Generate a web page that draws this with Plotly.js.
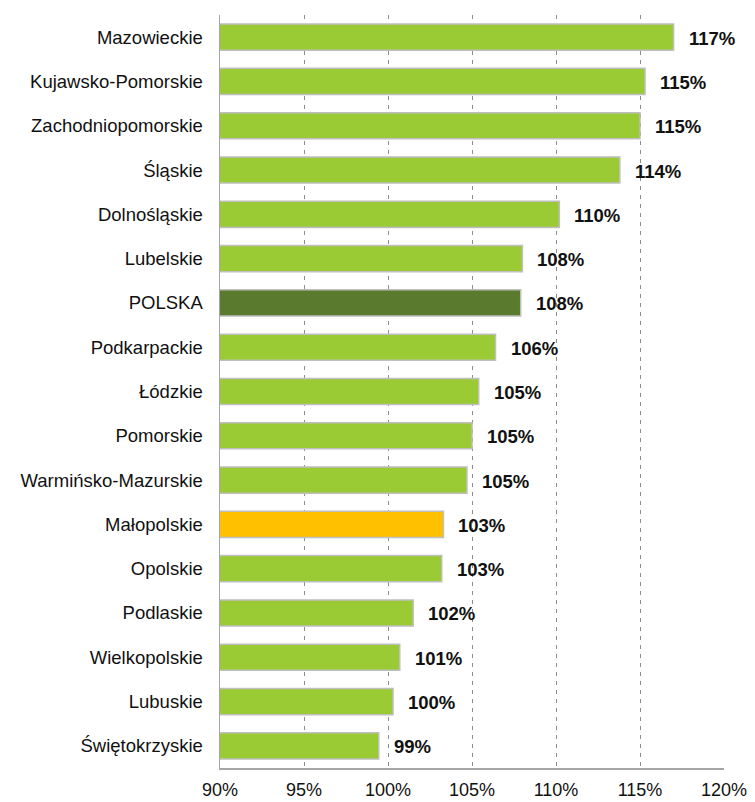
<!DOCTYPE html>
<html>
<head>
<meta charset="utf-8">
<script src="https://cdn.plot.ly/plotly-3.0.1.min.js"></script>
<style>
html,body{margin:0;padding:0;background:#fff;}
#chart{width:755px;height:802px;}
</style>
</head>
<body>
<div id="chart"></div>
<script>
const regions = ["Mazowieckie","Kujawsko-Pomorskie","Zachodniopomorskie","Śląskie","Dolnośląskie","Lubelskie","POLSKA","Podkarpackie","Łódzkie","Pomorskie","Warmińsko-Mazurskie","Małopolskie","Opolskie","Podlaskie","Wielkopolskie","Lubuskie","Świętokrzyskie"];
const values = [117.0,115.3,115.0,113.8,110.2,108.0,107.9,106.4,105.4,105.0,104.7,103.3,103.2,101.5,100.7,100.3,99.45];
const xTicks = [90,95,100,105,110,115,120];
const xTickLabels = ["90%","95%","100%","105%","110%","115%","120%"];

const GREEN = "#9ACB34", DARK = "#5A7A2E", ORANGE = "#FFC000";
const colors = regions.map(r => r === "POLSKA" ? DARK : (r === "Małopolskie" ? ORANGE : GREEN));
const FONT = "Liberation Sans, Arial, sans-serif";

const trace = {
  type: "bar", orientation: "h",
  y: regions, x: values,
  marker: {color: colors, line: {color: "#BFBFBF", width: 1.5}},
  hoverinfo: "none"
};

const annotations = regions.map((r, i) => ({
  x: values[i], y: r, xref: "x", yref: "y",
  text: Math.round(values[i]) + "%",
  showarrow: false, xanchor: "left", yanchor: "middle",
  xshift: 13, yshift: -1,
  font: {family: FONT, size: 18.5, color: "#111", weight: "bold"}
}));

const layout = {
  width: 755, height: 802,
  margin: {l: 220, r: 31, t: 15, b: 34},
  paper_bgcolor: "#fff", plot_bgcolor: "#fff",
  showlegend: false,
  bargap: 0.41,
  font: {family: FONT, size: 18.5, color: "#111"},
  xaxis: {
    range: [90, 120], tickmode: "array", tickvals: xTicks, ticktext: xTickLabels,
    showgrid: true, gridcolor: "#8C8C8C", gridwidth: 1, griddash: "4px,5px",
    showline: true, linecolor: "#A6A6A6", linewidth: 1.5,
    zeroline: false, ticks: "", fixedrange: true,
    tickfont: {family: FONT, size: 18, color: "#111"},
    ticklabelstandoff: 5
  },
  yaxis: {
    type: "category", autorange: "reversed",
    showline: true, linecolor: "#A6A6A6", linewidth: 1.5,
    showgrid: false, zeroline: false, ticks: "",
    tickfont: {family: FONT, size: 18.5, color: "#111"},
    ticklabelstandoff: 12, fixedrange: true
  },
  annotations: annotations
};

Plotly.newPlot("chart", [trace], layout, {displayModeBar: false, staticPlot: true});
</script>
</body>
</html>
